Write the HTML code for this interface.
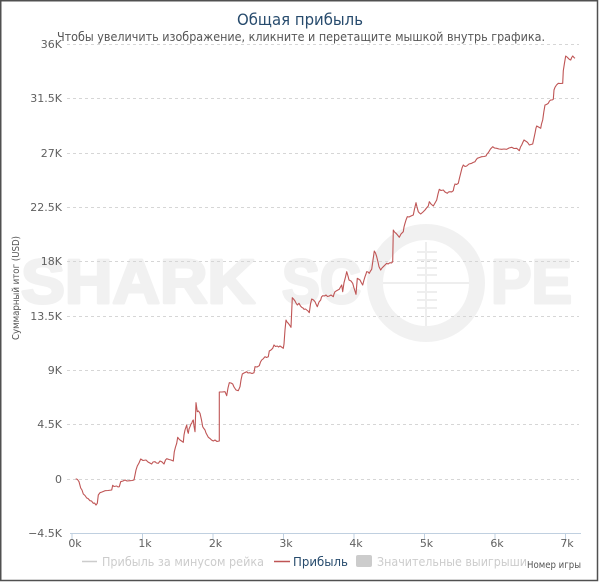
<!DOCTYPE html>
<html>
<head>
<meta charset="utf-8">
<style>
html,body{margin:0;padding:0;background:#fff;}
svg{display:block;}
text{font-family:"DejaVu Sans","Liberation Sans",sans-serif;}
text.wm{font-family:"Liberation Sans",sans-serif;font-weight:bold;}
</style>
</head>
<body>
<svg width="600" height="583" viewBox="0 0 600 583" xmlns="http://www.w3.org/2000/svg">
<rect x="0" y="0" width="600" height="583" fill="#fff"/>
<rect x="0.75" y="0.75" width="596.75" height="579.75" fill="none" stroke="#505050" stroke-width="1.5"/>

<!-- watermark -->
<g fill="#f1f1f1" stroke="#f1f1f1" stroke-width="3" stroke-linejoin="round">
<text class="wm" x="21" y="303" font-size="62" textLength="234" lengthAdjust="spacingAndGlyphs">SHARK</text>
<text class="wm" x="282" y="303" font-size="62" textLength="79" lengthAdjust="spacingAndGlyphs">SC</text>
<text class="wm" x="491" y="303" font-size="62" textLength="81" lengthAdjust="spacingAndGlyphs">PE</text>
</g>
<circle cx="426" cy="283" r="51" fill="none" stroke="#f1f1f1" stroke-width="16"/>
<g stroke="#eeeeee" stroke-width="2">
<line x1="426" y1="242" x2="426" y2="326"/>
<line x1="383" y1="283" x2="469" y2="283"/>
<line x1="417" y1="252" x2="437" y2="252"/>
<line x1="417" y1="260" x2="437" y2="260"/>
<line x1="417" y1="268" x2="437" y2="268"/>
<line x1="417" y1="275" x2="437" y2="275"/>
<line x1="417" y1="292" x2="437" y2="292"/>
<line x1="417" y1="300" x2="437" y2="300"/>
<line x1="417" y1="308" x2="437" y2="308"/>
</g>

<!-- title -->
<text x="300" y="25" font-size="16" fill="#274b6d" text-anchor="middle" textLength="126" lengthAdjust="spacingAndGlyphs">Общая прибыль</text>
<text x="57" y="41" font-size="12" fill="#555" textLength="488" lengthAdjust="spacingAndGlyphs">Чтобы увеличить изображение, кликните и перетащите мышкой внутрь графика.</text>

<!-- gridlines -->
<g stroke="#d6d6d6" stroke-width="1" stroke-dasharray="3,3">
<line x1="67" y1="44.5" x2="579" y2="44.5"/>
<line x1="67" y1="98.5" x2="579" y2="98.5"/>
<line x1="67" y1="153.5" x2="579" y2="153.5"/>
<line x1="67" y1="207.5" x2="579" y2="207.5"/>
<line x1="67" y1="261.5" x2="579" y2="261.5"/>
<line x1="67" y1="316.5" x2="579" y2="316.5"/>
<line x1="67" y1="370.5" x2="579" y2="370.5"/>
<line x1="67" y1="424.5" x2="579" y2="424.5"/>
<line x1="67" y1="479.5" x2="579" y2="479.5"/>
</g>

<!-- y labels -->
<g font-size="11" fill="#606060" text-anchor="end">
<text x="62" y="48">36K</text>
<text x="62" y="102">31.5K</text>
<text x="62" y="157">27K</text>
<text x="62" y="211">22.5K</text>
<text x="62" y="265">18K</text>
<text x="62" y="320">13.5K</text>
<text x="62" y="374">9K</text>
<text x="62" y="428">4.5K</text>
<text x="62" y="483">0</text>
<text x="62" y="537">−4.5K</text>
</g>
<text transform="translate(19,288) rotate(-90)" font-size="9.5" fill="#555" text-anchor="middle" textLength="104" lengthAdjust="spacingAndGlyphs">Суммарный итог (USD)</text>

<!-- x axis -->
<line x1="70" y1="533.5" x2="581" y2="533.5" stroke="#c0d0e0" stroke-width="1"/>
<g stroke="#c0d0e0" stroke-width="1">
<line x1="72" y1="533" x2="72" y2="539"/>
<line x1="142.5" y1="533" x2="142.5" y2="539"/>
<line x1="213" y1="533" x2="213" y2="539"/>
<line x1="283.5" y1="533" x2="283.5" y2="539"/>
<line x1="354" y1="533" x2="354" y2="539"/>
<line x1="424.5" y1="533" x2="424.5" y2="539"/>
<line x1="495" y1="533" x2="495" y2="539"/>
<line x1="565.5" y1="533" x2="565.5" y2="539"/>
</g>
<g font-size="11" fill="#606060" text-anchor="middle">
<text x="75" y="547">0k</text>
<text x="145" y="547">1k</text>
<text x="215.5" y="547">2k</text>
<text x="286" y="547">3k</text>
<text x="356" y="547">4k</text>
<text x="426.5" y="547">5k</text>
<text x="497" y="547">6k</text>
<text x="567" y="547">7k</text>
</g>

<!-- series -->
<polyline fill="none" stroke="#bf5555" stroke-width="1.1" stroke-linejoin="round" points="
75.7,478.7 77.5,479.5 79,481.7 80.7,488 82,490 83.3,494 85,495.5 86.7,498 88,498.5 90,500.7 91.5,501 93.3,503.3 94.5,503 96,505 97.3,503.3 98.3,495 100,492.7 102,492 105,490.7 108,490.5 111.7,490 112.7,485.3 114,486.5 116.7,486 118,487 119.3,486.7 120.7,481.7 123,481 125,480 127,481 130,480.7 132,480.5 134,480 136,470 137.3,466 139,463 140.7,459 143,460.5 146,460 148,462 151.7,464 153,462 155,461.7 156.5,463 158.3,463.3 160,461 161.7,461.7 163,463 164,464 165.5,460 166.7,458.7 169,459.5 171,460 173.3,461 174.3,451.7 175.5,447 176.7,443.3 177.7,437.3 179,439 180,440 181.5,441 183.3,442.3 184,435 185,430 186,427 186.7,425 187.5,431 188.3,433.3 189,429 190,426.7 191,424 191.7,423.3 192.5,421 193.3,420 194,426 195,431.7 196,402.7 197.3,411.7 198.5,411 200,413.3 201.5,420 202.7,426.7 203.5,428 205,430 206,433 208.3,437.3 210,438.5 211.5,440 213.3,441 215,440 217,441.5 219.3,441 219.3,392 222,392 225,391.7 226.7,395.7 228,388 229.3,382.7 231,383 232.7,384 234,387 236,390 238.3,390.7 240,386.7 241,380 242.3,374 244,373 246.7,371.7 248,373 250,372.7 252,373.5 254,372.7 255,366.7 257,367 259.3,365.7 260.5,362 261.7,360 263,359 265,356.7 266.5,357.5 268.3,356.7 269.3,351 271,350 272.7,348.3 274,345 275.5,346.5 277.3,346 278.5,347 280,346 281.5,347 283.3,348.3 284,344 285,330 286,320 287,322 288.3,323.3 289.5,325 291,327.3 292.3,297.7 293.5,299 295,301 296,303 297.3,305 299,303.3 300.5,306 301.7,307.3 303,308 304,309.3 305.5,309 306.7,310 308,311 309.3,312.7 310.5,304 311.7,299 313.5,300 315,301.7 316,304 317.3,306.7 319,302 320.7,300 321.5,297 322.7,295.7 324.5,296 326,295 327.5,296.5 329.3,296 331,295 333.3,296.7 334,294 335,291.7 337,290.5 339.3,289.3 340.5,287 341.7,285 342.7,291.7 344,282.7 345.5,277 346.7,271.7 348,276 349,280 351,281 352.7,283.3 354,288 356,294.3 357.3,278.3 358.5,279 360,280 361.5,283 362.7,285 364,280 365,276.7 366,274 366.7,271.7 368,272 369.3,273.3 370.5,271 371.7,269.3 373,260 374.3,251 375.5,253 376.7,256.7 378,262 379,266.7 380.7,270 382,268 383.3,266.7 385,265 386.7,263.3 388,264 390,262.7 391.5,263 392.7,261.7 393.3,230 394.5,232 396,233.3 397.5,235 399.3,237.3 401,234 403.3,231.7 404,227 405,223.3 406,220 407.3,216.7 409,217 411,216 413.3,215 414.5,209 416,202.7 417,207 418.3,211.7 419.5,213 420.7,214 423,212 425,210 426.5,208 428.3,206 429.3,201.7 431,204 433.3,206 435,203 436.7,200 438,194 439.3,189.3 441,190.5 443.3,190 445,192 447.3,193.3 448.5,192 450,191.7 451.5,192 453.3,190.7 454,187 455,184 456.5,184.5 458.3,183.3 459.5,178 460.7,173.3 462,168 463.3,165 465,166.5 466.7,166 469,164 471.7,163.3 473,162.5 475,161.7 476,160 477.3,158.3 479.5,157.5 481.7,156.7 484,156.5 486,156 487,154 488.3,152.7 490.5,149 492.7,146.7 494.5,148 496.7,148.3 499,149 501.7,149.3 504,149 506.7,149.3 509,148 511.7,147.3 514,148.5 516.7,148.3 518,149.5 519.3,150.7 520.5,147 521.7,145 523,142 524,140 525.5,141 526.7,141.7 528,143 529.3,145 531,144.5 532.7,144 534,138 535,133.3 536,128 536.7,126 538.5,127 540.7,128.3 541.5,124 542.7,120 543.8,112 545,105 546.5,104.5 548.3,103.3 549.5,101 550.7,100 552,100 553.3,99.3 554,90 555,87.3 556.5,85 558.3,83.3 560.5,83.5 562.7,83.3 563.3,70.7 564.5,63 565.7,56 567,57 568.3,58.3 569.5,59.5 570.7,60 571.7,57.5 572.7,56 574,57.5 575,58.3"/>

<!-- legend -->
<line x1="82" y1="561.5" x2="97" y2="561.5" stroke="#cccccc" stroke-width="1.5"/>
<text x="102" y="566" font-size="12" fill="#cccccc" textLength="162" lengthAdjust="spacingAndGlyphs">Прибыль за минусом рейка</text>
<line x1="274" y1="561.5" x2="290" y2="561.5" stroke="#bf5555" stroke-width="1.5"/>
<text x="293" y="566" font-size="12" fill="#274b6d" textLength="55" lengthAdjust="spacingAndGlyphs">Прибыль</text>
<rect x="356" y="555" width="16" height="12" rx="2" ry="2" fill="#cccccc"/>
<text x="377" y="566" font-size="12" fill="#cccccc" textLength="150" lengthAdjust="spacingAndGlyphs">Значительные выигрыши</text>
<text x="527" y="568" font-size="10" fill="#555" textLength="54" lengthAdjust="spacingAndGlyphs">Номер игры</text>
</svg>
</body>
</html>
